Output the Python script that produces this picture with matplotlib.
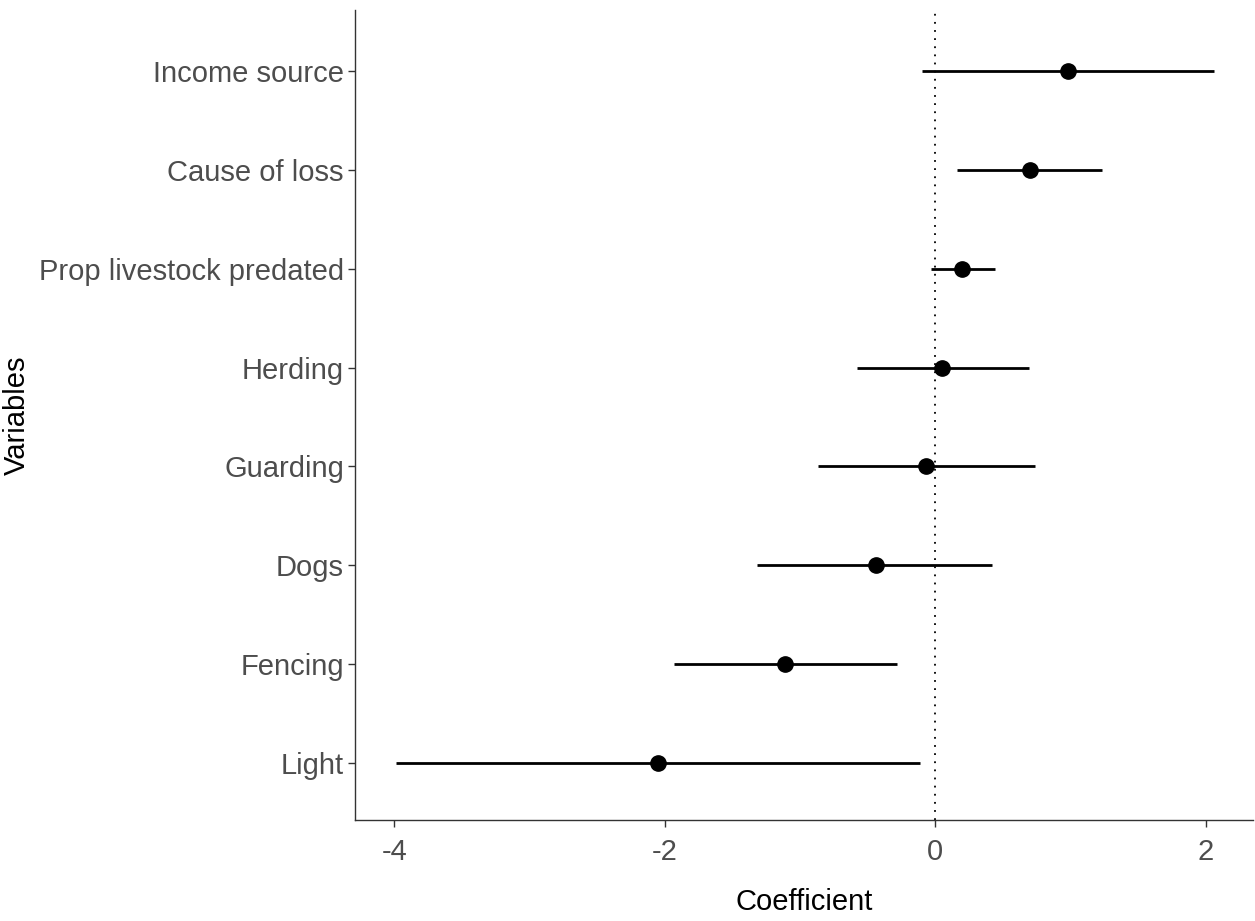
import matplotlib.pyplot as plt
import numpy as np

plt.rcParams['font.family'] = ['Liberation Sans Narrow', 'Liberation Sans', 'DejaVu Sans']

variables = ['Light', 'Fencing', 'Dogs', 'Guarding', 'Herding',
             'Prop livestock predated', 'Cause of loss', 'Income source']
coef = [-2.05, -1.11, -0.44, -0.07, 0.05, 0.20, 0.70, 0.98]
ci_low = [-3.99, -1.93, -1.32, -0.87, -0.58, -0.03, 0.16, -0.10]
ci_high = [-0.11, -0.28, 0.42, 0.74, 0.69, 0.44, 1.23, 2.06]
xticks = [-4, -2, 0, 2]

fig = plt.figure(figsize=(12.55, 9.21), dpi=100)
ax = fig.add_axes([355 / 1255, 1 - 820 / 921, 898 / 1255, 810 / 921])

y = np.arange(len(variables))
ax.axvline(0, color='black', linestyle=(0, (1, 3.5)), linewidth=1.3, zorder=1)
ax.hlines(y, ci_low, ci_high, color='black', linewidth=2, zorder=2)
ax.plot(coef, y, 'o', color='black', markersize=11, zorder=3)

ax.set_xlim(-4.29, 2.35)
ax.set_ylim(-0.58, 7.62)
ax.set_xticks(xticks)
ax.set_xticklabels([str(t) for t in xticks])
ax.set_yticks(y)
ax.set_yticklabels(variables)
ax.tick_params(labelsize=21, labelcolor='#4D4D4D', color='#333333',
               length=5, width=1)
ax.tick_params(axis='y', pad=3)
ax.tick_params(axis='x', pad=8)
ax.set_xlabel('Coefficient', fontsize=21, labelpad=16)
ax.set_ylabel('Variables', fontsize=21, labelpad=6)

for side in ['top', 'right']:
    ax.spines[side].set_visible(False)
for side in ['left', 'bottom']:
    ax.spines[side].set_color('#333333')
    ax.spines[side].set_linewidth(1)

fig.savefig('out.png', dpi=100)
